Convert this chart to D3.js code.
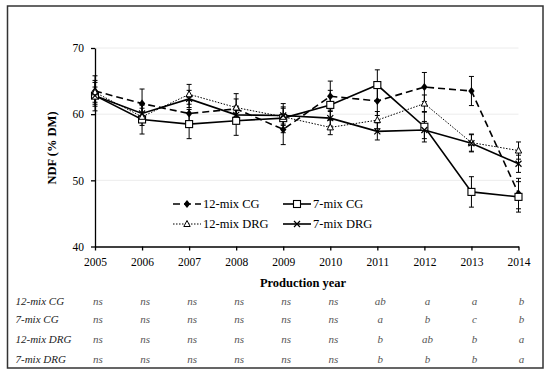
<!DOCTYPE html>
<html><head><meta charset="utf-8">
<script src="https://cdn.jsdelivr.net/npm/d3@7"></script>
<style>body{margin:0;background:#fff}svg{display:block}text{font-family:'Liberation Serif','DejaVu Serif',serif}</style>
</head><body>
<svg id="c" width="550" height="375"></svg>
<script>
const years = [2005,2006,2007,2008,2009,2010,2011,2012,2013,2014];
const yTicks = [40,50,60,70];
const seriesNames = ["12-mix CG","7-mix CG","12-mix DRG","7-mix DRG"];
const cg12 = [63.5,61.6,60.1,60.8,57.7,62.7,62.0,64.1,63.5,48.0];
const cg7 = [62.8,59.2,58.5,59.0,59.4,61.4,64.4,58.1,48.25,47.5];
const drg12 = [63.3,59.6,63.0,61.0,59.6,58.0,59.1,61.6,55.7,54.5];
const drg7 = [62.8,60.1,62.3,59.9,59.8,59.4,57.4,57.6,55.6,52.5];
const cg12Err = [2.3,2.2,2.0,2.3,2.3,2.3,2.2,2.2,2.2,2.3];
const cg7Err = [2.3,2.2,2.2,2.2,2.2,2.2,2.3,2.3,2.3,2.3];
const drg12Err = [1.5,1.3,1.5,1.3,1.3,1.1,1.3,1.3,1.3,1.3];
const drg7Err = [1.3,1.3,1.3,1.3,1.3,1.2,1.3,1.3,1.3,1.3];
const sig12CG = ["ns","ns","ns","ns","ns","ns","ab","a","a","b"];
const sig7CG = ["ns","ns","ns","ns","ns","ns","a","b","c","b"];
const sig12DRG = ["ns","ns","ns","ns","ns","ns","b","ab","b","a"];
const sig7DRG = ["ns","ns","ns","ns","ns","ns","b","b","b","a"];

const svg = d3.select("#c");
const F = "'Liberation Serif','DejaVu Serif',serif";
svg.append("rect").attr("x",7.5).attr("y",6).attr("width",535.5).attr("height",362)
  .attr("fill","#fff").attr("stroke","#333").attr("stroke-width",1.5);

const x = d3.scaleLinear().domain([2005,2014]).range([95,518.5]);
const y = d3.scaleLinear().domain([40,70]).range([246.5,48]);

// grid
svg.append("g").selectAll("line").data([50,60,70]).join("line")
  .attr("x1",95).attr("x2",518.5).attr("y1",d=>y(d)).attr("y2",d=>y(d))
  .attr("stroke","#ececec").attr("stroke-width",1);

const xAxis = svg.append("g").attr("transform","translate(0,246.5)")
  .call(d3.axisBottom(x).tickValues(years).tickFormat(d3.format("d")).tickSize(4).tickSizeOuter(0));
const yAxis = svg.append("g").attr("transform","translate(95,0)")
  .call(d3.axisLeft(y).tickValues(yTicks).tickSize(4).tickPadding(7).tickSizeOuter(0));
[xAxis,yAxis].forEach(g=>{
  g.attr("font-family",F);
  g.selectAll("path,line").attr("stroke","#000").attr("stroke-width",1.3);
  g.selectAll("text").style("font-family",F).attr("font-size",11.5).attr("fill","#000");
});
xAxis.selectAll("text").attr("dy","1.05em");

svg.append("text").attr("transform","translate(56,148) rotate(-90)").attr("text-anchor","middle")
  .style("font-family",F).attr("font-weight","bold").attr("font-size",12.5).text("NDF (% DM)");
svg.append("text").attr("x",303).attr("y",287).attr("text-anchor","middle")
  .style("font-family",F).attr("font-weight","bold").attr("font-size",12.5).text("Production year");

const series = [
  {name:seriesNames[0], v:cg12, e:cg12Err, dash:"7,4", w:1.6, m:"diamond"},
  {name:seriesNames[1], v:cg7, e:cg7Err, dash:null, w:1.6, m:"square"},
  {name:seriesNames[2], v:drg12, e:drg12Err, dash:"1.5,1.5", w:1, m:"triangle"},
  {name:seriesNames[3], v:drg7, e:drg7Err, dash:null, w:1.6, m:"cross"}
];

function marker(g, type, cx, cy){
  if(type==="diamond"){
    g.append("path").attr("d",`M${cx},${cy-4}L${cx+3.2},${cy}L${cx},${cy+4}L${cx-3.2},${cy}Z`).attr("fill","#000");
  } else if(type==="square"){
    g.append("rect").attr("x",cx-3.5).attr("y",cy-3.5).attr("width",7).attr("height",7)
      .attr("fill","#fff").attr("stroke","#000").attr("stroke-width",1.1);
  } else if(type==="triangle"){
    g.append("path").attr("d",`M${cx},${cy-3.5}L${cx+3.2},${cy+2.5}L${cx-3.2},${cy+2.5}Z`)
      .attr("fill","#fff").attr("stroke","#000").attr("stroke-width",1);
  } else {
    g.append("path").attr("d",`M${cx-3},${cy-3}L${cx+3},${cy+3}M${cx-3},${cy+3}L${cx+3},${cy-3}`)
      .attr("stroke","#000").attr("stroke-width",1.2);
  }
}

const line = d3.line().x((d,i)=>x(years[i])).y(d=>y(d));
series.forEach(s=>{
  const g = svg.append("g");
  s.v.forEach((v,i)=>{
    const cx = x(years[i]), t = y(v+s.e[i]), b = y(v-s.e[i]);
    g.append("line").attr("x1",cx).attr("x2",cx).attr("y1",t).attr("y2",b).attr("stroke","#000").attr("stroke-width",1);
    g.append("line").attr("x1",cx-2.5).attr("x2",cx+2.5).attr("y1",t).attr("y2",t).attr("stroke","#000").attr("stroke-width",1);
    g.append("line").attr("x1",cx-2.5).attr("x2",cx+2.5).attr("y1",b).attr("y2",b).attr("stroke","#000").attr("stroke-width",1);
  });
  g.append("path").attr("d",line(s.v)).attr("fill","none").attr("stroke","#000")
    .attr("stroke-width",s.w).attr("stroke-dasharray",s.dash);
});
series.forEach(s=>{
  const g = svg.append("g");
  s.v.forEach((v,i)=>marker(g,s.m,x(years[i]),y(v)));
});

// legend
const legPos = [[173,204],[283,204],[173,224],[283,224]];
series.forEach((s,k)=>{
  const [lx,ly] = legPos[k];
  const g = svg.append("g");
  g.append("line").attr("x1",lx).attr("x2",lx+28).attr("y1",ly).attr("y2",ly)
    .attr("stroke","#000").attr("stroke-width",s.w).attr("stroke-dasharray",s.dash);
  marker(g,s.m,lx+14,ly);
  g.append("text").attr("x",lx+30).attr("y",ly+4).style("font-family",F).attr("font-size",12.5).text(s.name);
});

// significance table
const sigRows = [sig12CG,sig7CG,sig12DRG,sig7DRG];
const rowY = [304.5,323,343,362.5];
sigRows.forEach((r,k)=>{
  svg.append("text").attr("x",15.5).attr("y",rowY[k]).style("font-family",F).attr("font-style","italic")
    .attr("font-size",11).attr("fill","#222").text(seriesNames[k]);
  r.forEach((t,i)=>{
    svg.append("text").attr("x",x(years[i])+3).attr("y",rowY[k]).attr("text-anchor","middle")
      .style("font-family",F).attr("font-style","italic").attr("font-size",11).attr("fill","#555").text(t);
  });
});
</script>
</body></html>
